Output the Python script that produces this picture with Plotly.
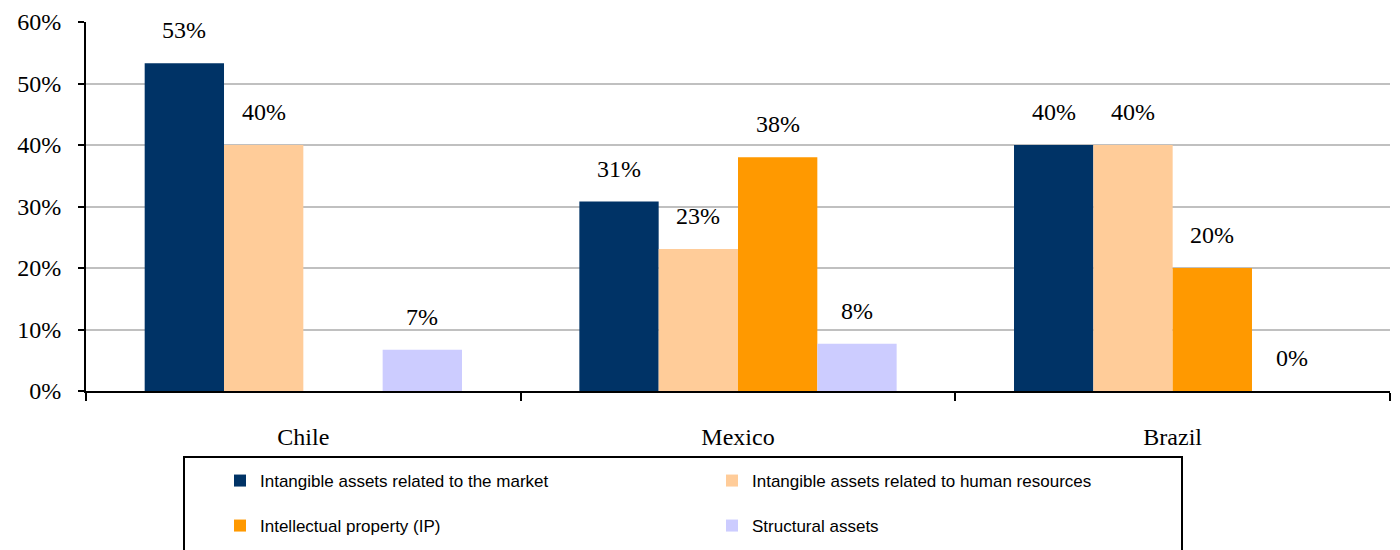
import plotly.graph_objects as go

countries = ["Chile", "Mexico", "Brazil"]
series_names = [
    "Intangible assets related to the market",
    "Intangible assets related to human resources",
    "Intellectual property (IP)",
    "Structural assets",
]
market = [0.533, 0.308, 0.40]
human_resources = [0.40, 0.231, 0.40]
intellectual_property = [None, 0.38, 0.20]
structural = [0.067, 0.077, 0.0]
y_ticks = [0, 0.1, 0.2, 0.3, 0.4, 0.5, 0.6]

colors = ["#003366", "#FFCC99", "#FF9900", "#CCCCFF"]
all_series = [market, human_resources, intellectual_property, structural]
legend_ids = ["legend", "legend", "legend2", "legend2"]

W, H = 1400, 550
ML, MR, MT, MB = 86, 10, 22, 159
BARGAP = 0.27
SERIF = "Liberation Serif, Times New Roman, serif"
SANS = "Liberation Sans, Arial, sans-serif"

fig = go.Figure()
for name, vals, col, lg in zip(series_names, all_series, colors, legend_ids):
    fig.add_trace(go.Bar(
        x=countries, y=vals, name=name, marker=dict(color=col, line=dict(width=0)),
        legend=lg,
    ))

# value labels floating above each bar
n = len(all_series)
slot = (1 - BARGAP) / n
for si, vals in enumerate(all_series):
    for ci, v in enumerate(vals):
        if v is None:
            continue
        fig.add_annotation(
            x=ci + (si - (n - 1) / 2) * slot, y=v, xref="x", yref="y",
            text=f"{round(v * 100):.0f}%", showarrow=False,
            yanchor="bottom", yshift=18,
            font=dict(family=SERIF, size=24, color="#000000"),
        )

# frame around the legend
pw = W - ML - MR
ph = H - MT - MB
def px_x(p):
    return (p - ML) / pw
def px_y(p):
    return (H - MB - p) / ph

fig.add_shape(type="rect", xref="paper", yref="paper",
              x0=px_x(184), x1=px_x(1182), y0=px_y(457), y1=px_y(570),
              line=dict(color="#000000", width=2), fillcolor="rgba(0,0,0,0)")

fig.update_layout(
    width=W, height=H,
    margin=dict(l=ML, r=MR, t=MT, b=MB),
    paper_bgcolor="white", plot_bgcolor="white",
    barmode="group", bargap=BARGAP, bargroupgap=0,
    font=dict(family=SERIF, size=24, color="#000000"),
    xaxis=dict(
        showline=True, linecolor="#000000", linewidth=2,
        ticks="outside", tickson="boundaries", ticklen=8, tickwidth=2, tickcolor="#000000",
        ticklabelstandoff=23, showgrid=False,
        tickfont=dict(family=SERIF, size=24),
    ),
    yaxis=dict(
        range=[0, 0.6], tickvals=y_ticks, tickformat=".0%",
        showline=True, linecolor="#000000", linewidth=2,
        ticks="outside", ticklen=6, tickwidth=2, tickcolor="#000000",
        ticklabelstandoff=12,
        showgrid=True, gridcolor="#C0C0C0", gridwidth=2,
        zeroline=False, tickfont=dict(family=SERIF, size=24),
    ),
    legend=dict(
        orientation="h", xref="container", yref="container",
        x=220 / W, y=1 - 463 / H, xanchor="left", yanchor="top",
        entrywidth=447, entrywidthmode="pixels",
        font=dict(family=SANS, size=17, color="#000000"),
        bgcolor="rgba(0,0,0,0)", traceorder="normal",
    ),
    legend2=dict(
        orientation="h", xref="container", yref="container",
        x=220 / W, y=1 - 508 / H, xanchor="left", yanchor="top",
        entrywidth=447, entrywidthmode="pixels",
        font=dict(family=SANS, size=17, color="#000000"),
        bgcolor="rgba(0,0,0,0)", traceorder="normal",
    ),
    showlegend=True,
)

fig.write_html("out.html")
